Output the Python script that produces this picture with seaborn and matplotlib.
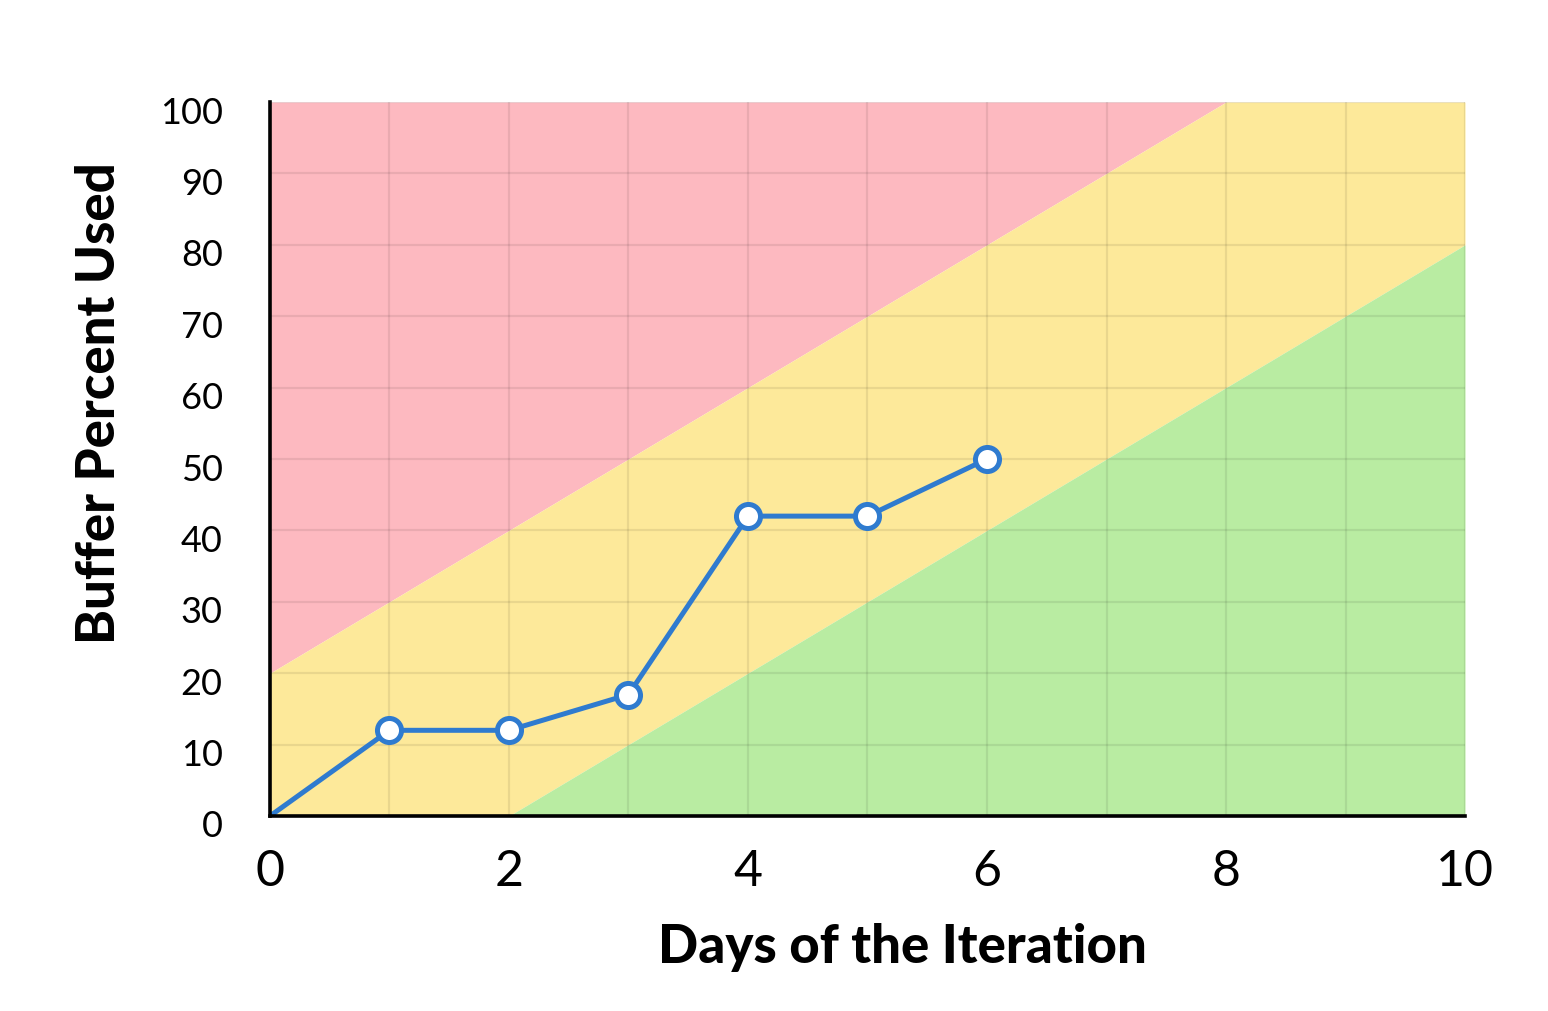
import matplotlib
matplotlib.use('Agg')
import matplotlib.pyplot as plt
import matplotlib.transforms as mtransforms
import seaborn as sns
import pandas as pd

# data
days = [0, 1, 2, 3, 4, 5, 6]
buffer_used = [0, 12, 12, 17, 42, 42, 50]

# zone borders (red above upper, green below lower, yellow in between)
zone_x = [0, 2, 8, 10]
zone_upper = [20, 40, 100, 100]
zone_lower = [0, 0, 60, 80]

x_ticks = [0, 2, 4, 6, 8, 10]
y_ticks = [0, 10, 20, 30, 40, 50, 60, 70, 80, 90, 100]

sns.set_theme(style='white')
plt.rcParams['font.family'] = ['Lato', 'DejaVu Sans']
plt.rcParams['text.color'] = 'black'
plt.rcParams['axes.labelcolor'] = 'black'
plt.rcParams['xtick.color'] = 'black'
plt.rcParams['ytick.color'] = 'black'

df = pd.DataFrame({'day': days, 'used': buffer_used})

fig = plt.figure(figsize=(15.48, 10.12), dpi=100)
ax = fig.add_axes([0.1744, 0.1927, 0.7720, 0.7055])

ax.fill_between(zone_x, zone_upper, 100, color='#fdb9c0', lw=0, zorder=0.5)
ax.fill_between(zone_x, zone_lower, zone_upper, color='#fde99a', lw=0, zorder=0.5)
ax.fill_between(zone_x, 0, zone_lower, color='#b9eca2', lw=0, zorder=0.5)

sns.lineplot(data=df, x='day', y='used', ax=ax, color='#2f7bcf', linewidth=3.6, zorder=3)
sns.scatterplot(data=df.iloc[1:], x='day', y='used', ax=ax, s=300, color='white',
                edgecolor='#2f7bcf', linewidth=3.6, zorder=4)

ax.set_xlim(0, 10)
ax.set_ylim(0, 100)
ax.set_xticks(range(0, 11))
ax.set_xticklabels([str(v) if v in x_ticks else '' for v in range(0, 11)])
ax.set_yticks(y_ticks)
ax.set_yticklabels([str(v) for v in y_ticks])

ax.set_axisbelow('line')
ax.grid(True, color='black', alpha=0.08, linewidth=1.6)

for s in ['top', 'right']:
    ax.spines[s].set_visible(False)
for s in ['left', 'bottom']:
    ax.spines[s].set_color('black')
    ax.spines[s].set_linewidth(2.6)
    ax.spines[s].set_zorder(5)

ax.tick_params(axis='x', length=0, pad=23, labelsize=36)
ax.tick_params(axis='y', length=0, pad=34, labelsize=26)

# labels sit a little under their grid lines in the reference
off = mtransforms.ScaledTranslation(0, -0.07, fig.dpi_scale_trans)
for lab in ax.get_yticklabels():
    lab.set_transform(lab.get_transform() + off)

ax.set_xlabel('Days of the Iteration', fontsize=38, fontweight='black', labelpad=20, x=0.529)
ax.set_ylabel('Buffer Percent Used', fontsize=38, fontweight='black', labelpad=26, y=0.58)

plt.savefig('out.png', dpi=100)
